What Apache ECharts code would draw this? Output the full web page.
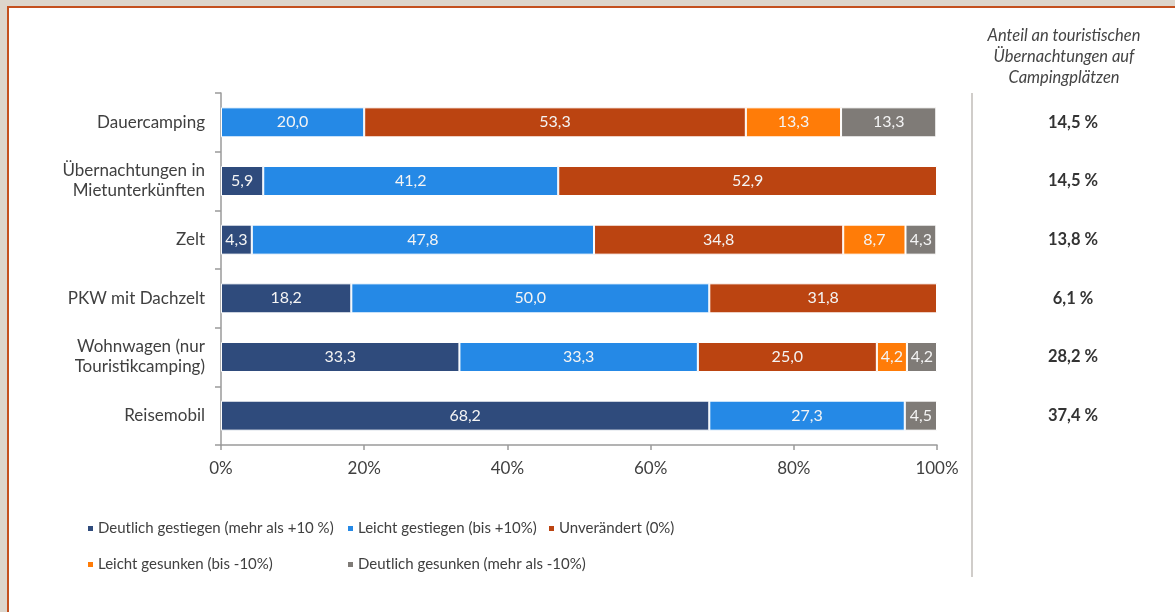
<!DOCTYPE html>
<html>
<head>
<meta charset="utf-8">
<script src="https://cdn.jsdelivr.net/npm/echarts@6/dist/echarts.min.js"></script>
<style>
  html, body { margin: 0; padding: 0; background: #ddd6cc; }
  #frame { position: absolute; left: 7px; top: 6px; right: 0; bottom: 0; background: #fff;
           border-left: 2px solid #c4501e; border-top: 2px solid #c4501e; }
  #chart { position: absolute; left: 0; top: 0; width: 1175px; height: 612px; }
</style>
</head>
<body>
<div id="frame"></div>
<div id="chart"></div>
<script>
const categories = ['Dauercamping', 'Übernachtungen in\nMietunterkünften', 'Zelt', 'PKW mit Dachzelt', 'Wohnwagen (nur\nTouristikcamping)', 'Reisemobil'];
const seriesNames = ['Deutlich gestiegen (mehr als +10 %)', 'Leicht gestiegen (bis +10%)', 'Unverändert (0%)', 'Leicht gesunken (bis -10%)', 'Deutlich gesunken (mehr als -10%)'];
const deutlichGestiegen = [null, 5.9, 4.3, 18.2, 33.3, 68.2];
const leichtGestiegen = [20.0, 41.2, 47.8, 50.0, 33.3, 27.3];
const unveraendert = [53.3, 52.9, 34.8, 31.8, 25.0, null];
const leichtGesunken = [13.3, null, 8.7, null, 4.2, null];
const deutlichGesunken = [13.3, null, 4.3, null, 4.2, 4.5];
const shareLabels = ['14,5 %', '14,5 %', '13,8 %', '6,1 %', '28,2 %', '37,4 %'];
const xTicks = [0, 20, 40, 60, 80, 100];
const headerText = 'Anteil an touristischen\nÜbernachtungen auf\nCampingplätzen';

const colors = ['#2f4b7c', '#2589e6', '#bb4411', '#ff7c08', '#7f7b77'];
const values = [deutlichGestiegen, leichtGestiegen, unveraendert, leichtGesunken, deutlichGesunken];
const FONT = 'Lato';

const chart = echarts.init(document.getElementById('chart'));

const legendPos = [
  {left: 86, top: 521}, {left: 346, top: 521}, {left: 547, top: 521},
  {left: 86, top: 557}, {left: 346, top: 557}
];

const option = {
  animation: false,
  backgroundColor: 'transparent',
  title: {
    text: headerText,
    left: 1064, top: 25, textAlign: 'center', padding: 0,
    textStyle: { fontFamily: FONT, fontStyle: 'italic', fontWeight: 'normal', fontSize: 16.5, color: '#444', lineHeight: 21 }
  },
  legend: seriesNames.map((n, i) => ({
    data: [n], left: legendPos[i].left, top: legendPos[i].top, padding: 0,
    icon: 'rect', itemWidth: 7, itemHeight: 7, itemGap: 4,
    textStyle: { fontFamily: FONT, fontSize: 15, color: '#404040', padding: [0, 0, 0, -1] },
    selectedMode: false
  })),
  grid: { left: 221, right: 238, top: 93, bottom: 167, containLabel: false },
  xAxis: {
    type: 'value', min: 0, max: 100, interval: 20,
    axisLine: { show: true, lineStyle: { color: '#9a9a9a', width: 1.5 } },
    axisTick: { show: true, length: 5, lineStyle: { color: '#9a9a9a', width: 1.5 } },
    splitLine: { show: false },
    axisLabel: { fontFamily: FONT, fontSize: 17, color: '#404040', margin: 15,
      formatter: v => (xTicks.indexOf(v) >= 0 ? v + '%' : '') }
  },
  yAxis: [
    {
      type: 'category', data: categories, inverse: true,
      axisLine: { show: true, lineStyle: { color: '#9a9a9a', width: 1.5 } },
      axisTick: { show: true, length: 6, lineStyle: { color: '#9a9a9a', width: 1.5 } },
      axisLabel: { fontFamily: FONT, fontSize: 17, color: '#404040', margin: 16, lineHeight: 20, align: 'right' }
    },
    {
      type: 'category', data: shareLabels, inverse: true, position: 'right',
      axisLine: { show: false }, axisTick: { show: false },
      axisLabel: { fontFamily: FONT, fontSize: 16.5, fontWeight: 'bold', color: '#333', margin: 136, align: 'center' }
    }
  ],
  graphic: [
    { type: 'line', shape: { x1: 972, y1: 93, x2: 972, y2: 577 }, style: { stroke: '#d0cdca', lineWidth: 2 } }
  ],
  series: seriesNames.map((n, i) => ({
    name: n, type: 'bar', stack: 'total', yAxisIndex: 0, barWidth: 30,
    data: values[i],
    itemStyle: { color: colors[i], borderColor: '#ffffff', borderWidth: 1 },
    label: {
      show: true, position: 'inside', fontFamily: FONT, fontSize: 16, color: '#f4f4f4',
      formatter: p => (p.value == null ? '' : Number(p.value).toFixed(1).replace('.', ','))
    }
  }))
};
chart.setOption(option);
</script>
</body>
</html>
